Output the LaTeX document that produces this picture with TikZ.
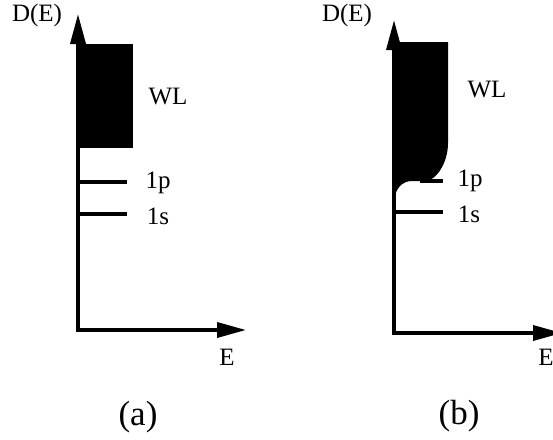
\documentclass[tikz,border=0pt]{standalone}
\usepackage{fontspec}
\setmainfont{Liberation Serif}
\usetikzlibrary{arrows.meta,positioning,calc}

\tikzset{
    axis/.style={line width=3.5pt, line join=miter,
        {Triangle[length=30pt,width=15pt]}-{Triangle[length=29pt,width=15pt]}},
    level/.style={line width=3.5pt},
    lab/.style={font=\fontsize{25}{30}\selectfont, inner sep=0pt},
    panel/.style={font=\fontsize{35}{42}\selectfont, inner sep=0pt}
}

\begin{document}
\begin{tikzpicture}[x=1pt,y=-1pt]
    \useasboundingbox (0,0) rectangle (553,439);

    % (a)
    \coordinate (oa) at (78,330);
    \coordinate (ya) at (78,14);
    \coordinate (xa) at (246,330);
    \fill (78,44) rectangle (133,148);
    \draw[axis] (ya) -- (oa) -- (xa);
    \coordinate (pa) at (127,182);
    \coordinate (sa) at (127,214);
    \draw[level] (pa -| oa) -- (pa);
    \draw[level] (sa -| oa) -- (sa);
    \node[lab] (DEa) at (37,15) {D(E)};
    \node[lab] (WLa) at (168,97) {WL};
    \node[lab] (pla) at (158,183) {1p};
    \node[lab] (sla) at (158,216) {1s};
    \node[lab] (Ea) at (227,357) {E};
    \node[panel] (capa) at (138,417) {(a)};

    % (b)
    \coordinate (ob) at (394,333);
    \coordinate (yb) at (394,20);
    \coordinate (xb) at (562,333);
    \fill (394,42) -- (448,42) -- (448,143)
        .. controls (448,163) and (436,181) .. (425,181) -- (412,181)
        .. controls (402,181) and (394,189) .. (394,204) -- cycle;
    \draw[axis] (yb) -- (ob) -- (xb);
    \coordinate (pb) at (443,181);
    \coordinate (sb) at (443,212);
    \draw[level] (420,181) -- (pb);
    \draw[level] (sb -| ob) -- (sb);
    \node[lab] (DEb) at (347,15) {D(E)};
    \node[lab] (WLb) at (487,90) {WL};
    \node[lab] (plb) at (470,181) {1p};
    \node[lab] (slb) at (469,214) {1s};
    \node[lab] (Eb) at (546,357) {E};
    \node[panel] (capb) at (459,416) {(b)};
\end{tikzpicture}
\end{document}
